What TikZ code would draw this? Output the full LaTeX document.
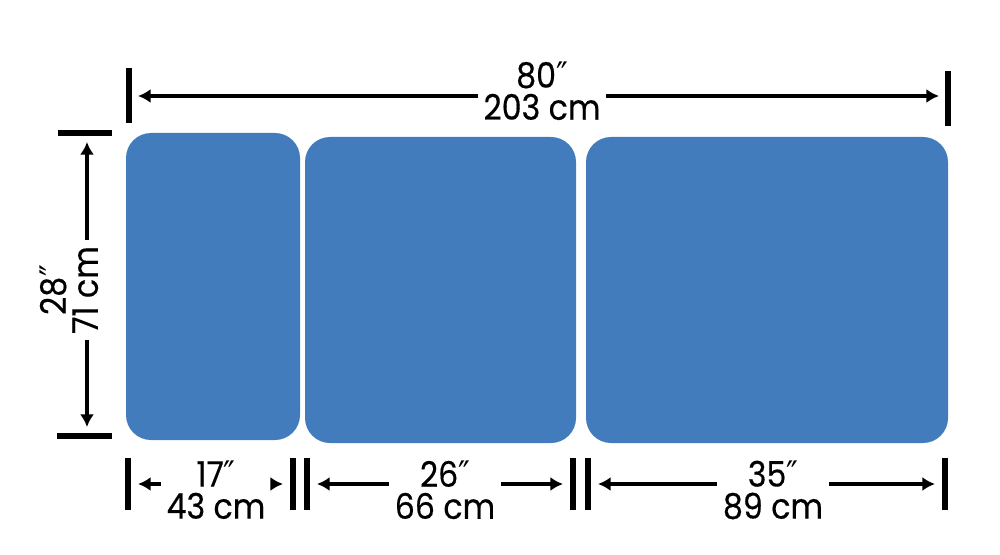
\documentclass[tikz,border=0pt]{standalone}
\usepackage{fontspec}
\setmainfont{Poppins}[FakeStretch=0.9, FakeBold=0.4]
\newfontfamily\primefont{DejaVu Sans}[FakeStretch=0.9]
\newcommand{\inch}{{\primefont ″}}
\usetikzlibrary{arrows.meta, positioning}
\definecolor{padblue}{RGB}{67,124,188}

\tikzset{
    pad/.style={fill=padblue, draw=none, rounded corners=0.25cm, inner sep=0pt},
    dimline/.style={line width=1.4pt, -{Latex[length=3.6pt, width=4pt]}},
    tick/.style={line width=1.7pt},
    dimlabel/.style={align=center, inner sep=1.5pt, font=\fontsize{10}{9.1}\selectfont}
}

\begin{document}
\begin{tikzpicture}
    \useasboundingbox (0,0) rectangle (10,5.54);
    % table sections
        \node[pad, minimum width=1.74cm, minimum height=3.07cm] (head) at (2.13,2.675) {};
        \node[pad, minimum width=2.71cm, minimum height=3.06cm] (seat) at (4.405,2.64) {};
        \node[pad, minimum width=3.62cm, minimum height=3.06cm] (foot) at (7.67,2.64) {};

    % overall length
        \coordinate (tl) at (1.29,4.58);
        \coordinate (tr) at (9.48,4.58);
        \draw[tick] (1.29,4.86) -- (1.29,4.31);
        \draw[tick] (9.48,4.83) -- (9.48,4.28);
        \node[dimlabel] (total) at (5.42,4.63) {80\inch\\203 cm};
        \draw[dimline, shorten >=0.09cm] (total.west |- tl) -- (tl);
        \draw[dimline, shorten >=0.09cm] (total.east |- tr) -- (tr);

    % width
        \coordinate (wt) at (0.87,4.21);
        \coordinate (wb) at (0.87,1.18);
        \draw[tick] (0.58,4.21) -- (1.12,4.21);
        \draw[tick] (0.57,1.18) -- (1.12,1.18);
        \node[dimlabel, rotate=90] (width) at (0.69,2.64) {28\inch\\71 cm};
        \draw[dimline, shorten >=0.09cm] (width.east -| wt) -- (wt);
        \draw[dimline, shorten >=0.09cm] (width.west -| wb) -- (wb);

    % section lengths
        \foreach \x in {1.28,2.93,3.07,5.73,5.88,9.45}
            \draw[tick] (\x,0.96) -- (\x,0.44);
        \node[dimlabel] (headlen) at (2.16,0.64) {17\inch\\43 cm};
        \node[dimlabel] (seatlen) at (4.45,0.64) {26\inch\\66 cm};
        \node[dimlabel] (footlen) at (7.73,0.64) {35\inch\\89 cm};
        \draw[dimline, shorten >=0.1cm] (headlen.west |- 0,0.70) -- (1.28,0.70);
        \draw[dimline, shorten >=0.1cm] (headlen.east |- 0,0.70) -- (2.93,0.70);
        \draw[dimline, shorten >=0.1cm] (seatlen.west |- 0,0.70) -- (3.07,0.70);
        \draw[dimline, shorten >=0.1cm] (seatlen.east |- 0,0.70) -- (5.73,0.70);
        \draw[dimline, shorten >=0.1cm] (footlen.west |- 0,0.70) -- (5.88,0.70);
        \draw[dimline, shorten >=0.1cm] (footlen.east |- 0,0.70) -- (9.45,0.70);
\end{tikzpicture}
\end{document}
